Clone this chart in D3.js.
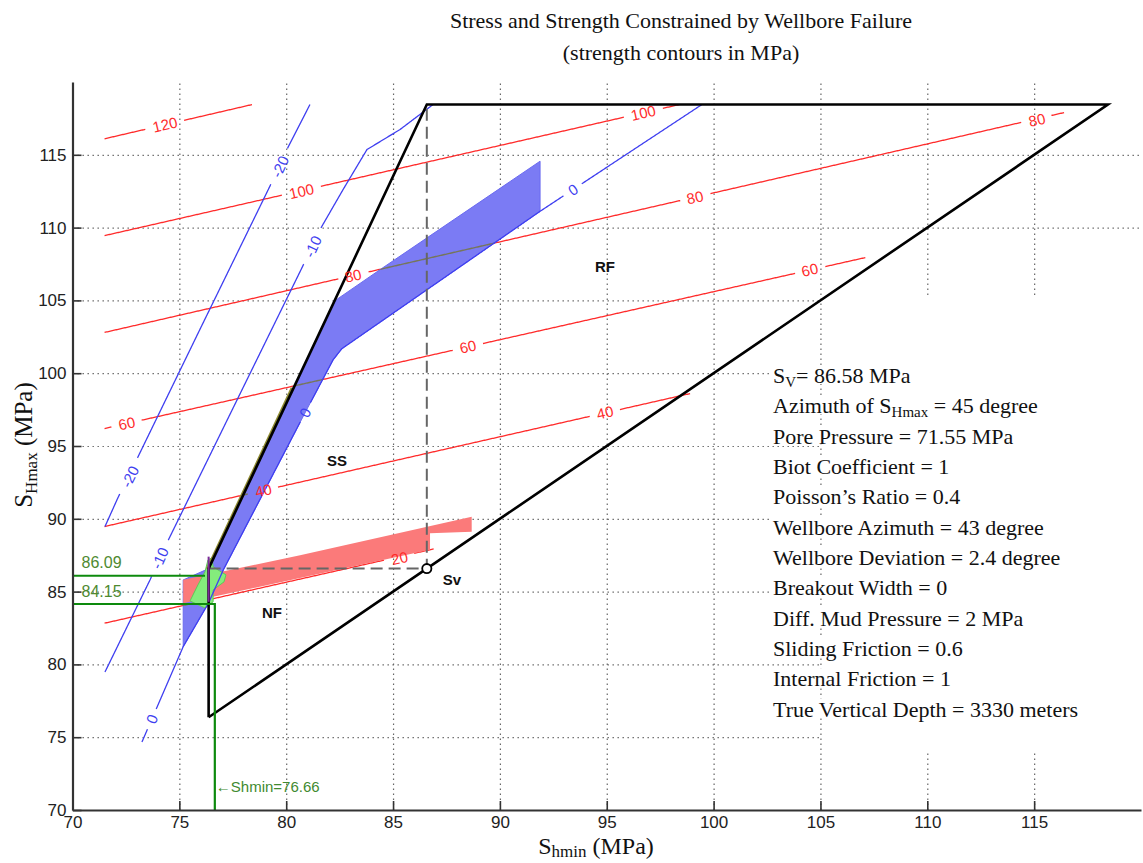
<!DOCTYPE html>
<html>
<head>
<meta charset="utf-8">
<script src="https://d3js.org/d3.v7.min.js"></script>
<style>
  body { margin: 0; background: #fff; }
  svg { display: block; }
</style>
</head>
<body>
<div id="main"></div>
<script>
// ---- data (MPa) ----
var xTicks = [70, 75, 80, 85, 90, 95, 100, 105, 110, 115];
var yTicks = [70, 75, 80, 85, 90, 95, 100, 105, 110, 115];

var sv = 86.58, shminLow = 76.37, shmaxHigh = 118.45;

// frictional limit polygon
var polygonCorners = [[shminLow, shminLow], [shminLow, sv], [sv, shmaxHigh], [shmaxHigh, shmaxHigh], [shminLow, shminLow]];

// strength contours (red)
var strengthLevels = [120, 100, 80, 60, 40, 20];
var strengthLines = [
  [[71.5, 116.1], [78.4, 118.45]],
  [[71.5, 109.45], [98.4, 118.45]],
  [[71.5, 102.8], [116.4, 117.9]],
  [[71.5, 96.2], [107.1, 107.94]],
  [[71.5, 89.47], [98.9, 98.6]],
  [[71.5, 82.83], [86.9, 87.93]]
];
var strengthLabels = [
  [[74.33, 117.07]],
  [[80.72, 112.5], [96.71, 117.88]],
  [[83.13, 106.7], [99.13, 112.07], [115.13, 117.4]],
  [[72.54, 96.55], [88.5, 101.82], [104.5, 107.1]],
  [[78.93, 91.95], [94.92, 97.3]],
  [[85.3, 87.3]]
];

// second set of contours (blue)
var mudLevels = [-20, -10, 0];
var mudLines = [
  [[71.52, 89.47], [72.13, 91.46], [73.0, 94.06], [75.96, 103.0], [79.24, 112.85], [80.08, 115.5], [81.11, 118.45]],
  [[71.52, 79.48], [73.63, 85.81], [74.42, 88.35], [78.21, 99.69], [80.74, 107.25], [81.58, 109.86],
   [82.66, 112.61], [83.78, 115.36], [85.33, 116.74], [86.87, 118.45]],
  [[73.25, 74.67], [75.18, 81.22], [76.36, 84.2], [77.06, 86.5], [80.96, 97.5], [82.2, 100.93],
   [82.6, 101.68], [91.88, 111.12], [99.45, 118.45]]
];
var mudLabels = [
  [[72.69, 92.89], [79.71, 114.19]],
  [[74.09, 87.3], [81.25, 108.7]],
  [[73.72, 76.25], [80.88, 97.3], [93.42, 112.6]]
];

// shaded areas
var blueArea = [[75.18, 81.22], [76.36, 84.2], [77.06, 86.5], [80.96, 97.5], [82.2, 100.93], [82.6, 101.68],
  [91.88, 111.12], [91.88, 114.56], [84.39, 107.11], [82.35, 105.05], [76.37, 86.58], [75.18, 85.8]];
var pinkArea = [[75.18, 85.81], [80.65, 87.5], [88.68, 90.14], [88.68, 89.11], [86.73, 89.0], [86.73, 87.87], [75.18, 84.2]];
var greenArea = [[75.5, 84.36], [75.87, 85.46], [76.2, 86.36], [76.34, 87.18], [76.53, 87.32], [76.58, 86.7],
  [77.18, 86.15], [77.09, 85.67], [76.58, 85.12], [76.58, 84.3], [76.2, 83.88]];

var shmaxBounds = [86.09, 84.15];
var shminBound = 76.66;

var regionNames = ["NF", "SS", "RF", "Sv"];
var regionPos = [[79.33, 83.57], [82.38, 93.99], [94.92, 107.29], [87.76, 85.8]];

var infoLines = [
  ["S", "V", "= 86.58 MPa"],
  ["Azimuth of S", "Hmax", " = 45 degree"],
  ["Pore Pressure = 71.55 MPa"],
  ["Biot Coefficient = 1"],
  ["Poisson\u2019s Ratio = 0.4"],
  ["Wellbore Azimuth = 43 degree"],
  ["Wellbore Deviation = 2.4 degree"],
  ["Breakout Width = 0"],
  ["Diff. Mud Pressure = 2 MPa"],
  ["Sliding Friction = 0.6"],
  ["Internal Friction = 1"],
  ["True Vertical Depth = 3330 meters"]
];

// ---- drawing ----
var width = 1143, height = 863;
var x = d3.scaleLinear().domain([70, 120]).range([72.5, 1141]);
var y = d3.scaleLinear().domain([70, 120]).range([810, 82]);
var sans = "'Liberation Sans', Arial, sans-serif";
var serif = "'Liberation Serif', 'Times New Roman', serif";

var svg = d3.select("#main").append("svg")
  .attr("width", width).attr("height", height)
  .style("background-color", "white");

// layers, bottom to top
var gridG = svg.append("g");
var boxG = svg.append("g");
var redG = svg.append("g");
var fillG = svg.append("g");
var dimG = svg.append("g").attr("clip-path", "url(#blueClip)");
var overG = svg.append("g");
var blueG = svg.append("g");
var markG = svg.append("g");
var labelG = svg.append("g");

// grid
gridG.append("g").attr("transform", "translate(0," + y(70) + ")")
  .call(d3.axisBottom(x).tickValues(xTicks.slice(1)).tickSize(-(y(70) - y(120))).tickFormat(""))
  .call(function(g) { g.select(".domain").remove(); })
  .selectAll("line").attr("stroke", "#666").attr("stroke-width", 1.2).attr("stroke-dasharray", "1.4,3.6");
gridG.append("g").attr("transform", "translate(" + x(70) + ",0)")
  .call(d3.axisLeft(y).tickValues(yTicks.slice(1)).tickSize(-(x(120) - x(70))).tickFormat(""))
  .call(function(g) { g.select(".domain").remove(); })
  .selectAll("line").attr("stroke", "#666").attr("stroke-width", 1.2).attr("stroke-dasharray", "1.4,3.6");

// white area behind the parameter text
var infoX = 773, infoY0 = 383, infoDy = 30.33;
boxG.append("rect").attr("x", 822).attr("y", 297).attr("width", width - 822).attr("height", 455).attr("fill", "white");
infoLines.forEach(function(d, i) {
  boxG.append("rect").attr("x", 770).attr("y", infoY0 + i * infoDy - 18)
    .attr("width", width - 770).attr("height", 19).attr("fill", "white");
});

var line = d3.line();
function toPx(pts) { return pts.map(function(p) { return [x(p[0]), y(p[1])]; }); }

function densify(px) {
  var out = [];
  for (var i = 0; i < px.length - 1; i++) {
    var a = px[i], b = px[i + 1];
    var n = Math.max(1, Math.ceil(Math.hypot(b[0] - a[0], b[1] - a[1])));
    for (var k = 0; k < n; k++) out.push([a[0] + (b[0] - a[0]) * k / n, a[1] + (b[1] - a[1]) * k / n]);
  }
  out.push(px[px.length - 1]);
  return out;
}

function splitRuns(px, labs, gap) {
  var runs = [], cur = [];
  densify(px).forEach(function(p) {
    var near = labs.some(function(l) { return Math.hypot(p[0] - l[0], p[1] - l[1]) < gap; });
    if (near) { if (cur.length > 1) runs.push(cur); cur = []; }
    else cur.push(p);
  });
  if (cur.length > 1) runs.push(cur);
  return runs;
}

function angleAt(px, lp) {
  var best = 1e9, ang = 0;
  for (var i = 0; i < px.length - 1; i++) {
    var a = px[i], b = px[i + 1];
    var dx = b[0] - a[0], dy = b[1] - a[1];
    var t = Math.max(0, Math.min(1, ((lp[0] - a[0]) * dx + (lp[1] - a[1]) * dy) / (dx * dx + dy * dy)));
    var d = Math.hypot(a[0] + t * dx - lp[0], a[1] + t * dy - lp[1]);
    if (d < best) { best = d; ang = Math.atan2(dy, dx) * 180 / Math.PI; }
  }
  if (ang > 90) ang -= 180;
  if (ang < -90) ang += 180;
  return ang;
}

function drawContours(levels, lines, labels, color, lineTarget) {
  var allRuns = [];
  levels.forEach(function(lev, i) {
    var px = toPx(lines[i]);
    var labPx = toPx(labels[i]);
    var txt = String(lev);
    var gap = txt.length * 4.5 + 6;
    var runs = splitRuns(px, labPx, gap);
    allRuns.push(runs);
    lineTarget.selectAll(null).data(runs).enter().append("path")
      .attr("d", line).attr("fill", "none").attr("stroke", color).attr("stroke-width", 1.3);
    labPx.forEach(function(lp) {
      labelG.append("text")
        .attr("transform", "translate(" + lp[0] + "," + lp[1] + ") rotate(" + angleAt(px, lp) + ")")
        .attr("text-anchor", "middle").attr("dy", "0.36em")
        .attr("font-family", sans).attr("font-size", 15).attr("fill", color)
        .text(txt);
    });
  });
  return allRuns;
}

// strength contours
var redRuns = drawContours(strengthLevels, strengthLines, strengthLabels, "#ff2b2b", redG);

// blue area, red contours showing through dimmed
fillG.append("path").attr("d", line(toPx(blueArea)) + "Z").attr("fill", "#7b7bf4").attr("stroke", "#6a6af0").attr("stroke-width", 1);
svg.append("clipPath").attr("id", "blueClip")
  .append("path").attr("d", line(toPx(blueArea)) + "Z");
redRuns.forEach(function(runs) {
  dimG.selectAll(null).data(runs).enter().append("path")
    .attr("d", line).attr("fill", "none").attr("stroke", "#76765a").attr("stroke-width", 1.4);
});

// pink and green areas
overG.append("path").attr("d", line(toPx(pinkArea)) + "Z").attr("fill", "#fb7a7a");
overG.append("path").attr("d", line(toPx(greenArea)) + "Z").attr("fill", "#84ec7c").attr("stroke", "#5ccc55").attr("stroke-width", 1);

// blue contours
drawContours(mudLevels, mudLines, mudLabels, "#3f3ff0", blueG);

// dashed Sv guides
markG.append("path")
  .attr("d", line(toPx([[shminLow, sv], [sv, sv], [sv, shmaxHigh]])))
  .attr("fill", "none").attr("stroke", "#666").attr("stroke-width", 2).attr("stroke-dasharray", "12,6");

// olive edge along the SS boundary
markG.append("path")
  .attr("d", line(toPx([[shminLow, sv], [shminLow + (99 - sv) / 3.135, 99]])))
  .attr("transform", "translate(-1.6,0)")
  .attr("fill", "none").attr("stroke", "#8e8a30").attr("stroke-width", 2);

// frictional limit polygon
markG.append("path").attr("d", line(toPx(polygonCorners)))
  .attr("fill", "none").attr("stroke", "#000").attr("stroke-width", 2.6).attr("stroke-linejoin", "miter");

markG.append("path").attr("d", line(toPx([[shminLow, 84.3], [shminLow, 87.4]])))
  .attr("stroke", "#7c2a98").attr("stroke-width", 2);

// green bounds
markG.append("path").attr("d", line(toPx([[70, shmaxBounds[0]], [76.2, shmaxBounds[0]]])))
  .attr("fill", "none").attr("stroke", "#0d8a0d").attr("stroke-width", 2.2);
markG.append("path").attr("d", line(toPx([[70, shmaxBounds[1]], [shminBound, shmaxBounds[1]], [shminBound, 70]])))
  .attr("fill", "none").attr("stroke", "#0d8a0d").attr("stroke-width", 2.2);
labelG.append("text").attr("x", x(70) + 9).attr("y", y(shmaxBounds[0]) - 8)
  .attr("font-family", sans).attr("font-size", 16).attr("fill", "#4e8a30").text(shmaxBounds[0].toFixed(2));
labelG.append("text").attr("x", x(70) + 9).attr("y", y(shmaxBounds[1]) - 7)
  .attr("font-family", sans).attr("font-size", 16).attr("fill", "#4e8a30").text(shmaxBounds[1].toFixed(2));
labelG.append("text").attr("x", x(shminBound) + 1).attr("y", y(71.25))
  .attr("font-family", sans).attr("font-size", 15).attr("fill", "#3f8a30").text("\u2190Shmin=" + shminBound.toFixed(2));

// Sv point
markG.append("circle").attr("cx", x(sv)).attr("cy", y(sv)).attr("r", 4.6)
  .attr("fill", "white").attr("stroke", "#000").attr("stroke-width", 1.8);

// region labels
regionNames.forEach(function(n, i) {
  labelG.append("text").attr("x", x(regionPos[i][0])).attr("y", y(regionPos[i][1]))
    .attr("text-anchor", "middle").attr("dy", "0.36em")
    .attr("font-family", sans).attr("font-weight", "bold").attr("font-size", 15).attr("fill", "#111")
    .text(n);
});

// axes
var xAxis = svg.append("g").attr("transform", "translate(0," + y(70) + ")")
  .call(d3.axisBottom(x).tickValues(xTicks).tickSizeInner(-9).tickSizeOuter(0).tickPadding(6));
var yAxis = svg.append("g").attr("transform", "translate(" + x(70) + ",0)")
  .call(d3.axisLeft(y).tickValues(yTicks).tickSizeInner(-9).tickSizeOuter(0).tickPadding(6));
[xAxis, yAxis].forEach(function(g) {
  g.select(".domain").attr("stroke", "#333").attr("stroke-width", 2.2);
  g.selectAll(".tick line").attr("stroke", "#333").attr("stroke-width", 1.6);
  g.selectAll(".tick text").attr("font-family", sans).attr("font-size", 17).attr("fill", "#222");
});

// title
svg.append("text").attr("x", 681).attr("y", 28).attr("text-anchor", "middle")
  .attr("font-family", serif).attr("font-size", 22).attr("fill", "#111")
  .text("Stress and Strength Constrained by Wellbore Failure");
svg.append("text").attr("x", 681).attr("y", 60).attr("text-anchor", "middle")
  .attr("font-family", serif).attr("font-size", 22).attr("fill", "#111")
  .text("(strength contours in MPa)");

// axis titles
var xl = svg.append("text").attr("x", 596).attr("y", 854).attr("text-anchor", "middle")
  .attr("font-family", serif).attr("font-size", 24).attr("fill", "#111");
xl.append("tspan").text("S");
xl.append("tspan").attr("font-size", 17).attr("dy", 3).text("hmin");
xl.append("tspan").attr("dy", -3).text(" (MPa)");

var yl = svg.append("text").attr("transform", "translate(32,445) rotate(-90)").attr("text-anchor", "middle")
  .attr("font-family", serif).attr("font-size", 25).attr("fill", "#111");
yl.append("tspan").text("S");
yl.append("tspan").attr("font-size", 17).attr("dy", 5).text("Hmax");
yl.append("tspan").attr("dy", -5).text(" (MPa)");

// parameter text
infoLines.forEach(function(parts, i) {
  var t = svg.append("text").attr("x", infoX).attr("y", infoY0 + i * infoDy)
    .attr("font-family", serif).attr("font-size", 22).attr("fill", "#111");
  t.append("tspan").text(parts[0]);
  if (parts.length > 1) {
    t.append("tspan").attr("font-size", 15).attr("dy", 4).text(parts[1]);
    t.append("tspan").attr("dy", -4).text(parts[2]);
  }
});
</script>
</body>
</html>
